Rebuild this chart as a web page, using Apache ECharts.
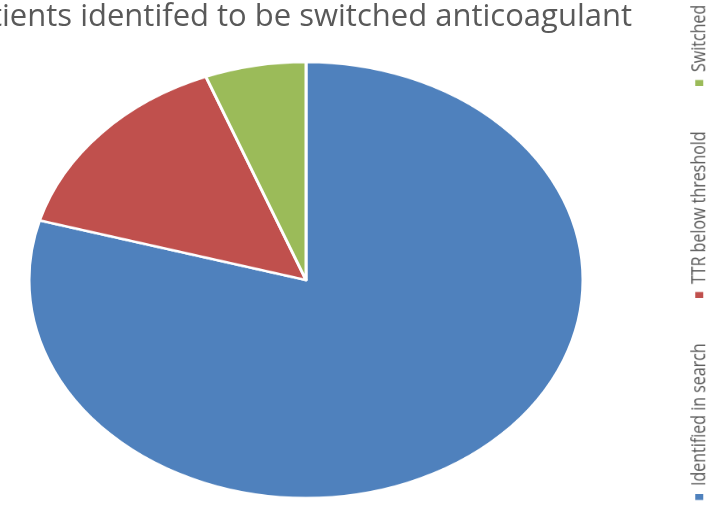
<!DOCTYPE html>
<html>
<head>
<meta charset="utf-8">
<script src="https://cdn.jsdelivr.net/npm/echarts@6/dist/echarts.min.js"></script>
<style>
  html, body { margin: 0; padding: 0; background: #fff; }
  #wrap { position: relative; width: 728px; height: 506px; overflow: hidden; }
  #main { position: absolute; left: 0; top: 0; width: 728px; height: 506px; }
  #pie {
    position: absolute; left: 29px; top: 3px; width: 554px; height: 554px;
    transform-origin: 50% 50%; transform: scaleY(0.787);
  }
  /* 632.5 * 0.8 = 506 after squeeze; centre at (699, 253) */
  #legend {
    position: absolute; left: 382.75px; top: 233px; width: 632.5px; height: 40px;
    transform-origin: 50% 50%; transform: rotate(-90deg) scaleX(0.8);
  }
</style>
</head>
<body>
<div id="wrap">
  <div id="main"></div>
  <div id="pie"></div>
  <div id="legend"></div>
</div>
<script>
var titleText = "Patients identifed to be switched anticoagulant"
var categories = ["Identified in search", "TTR below threshold", "Switched"]
var values = [54, 10, 4]
var colors = ["#4F81BD", "#C0504D", "#9BBB59"]

var pieData = categories.map(function (name, i) {
  return { name: name, value: values[i], itemStyle: { color: colors[i] } }
})

// title
var mainChart = echarts.init(document.getElementById("main"))
mainChart.setOption({
  title: {
    text: titleText,
    right: 91,
    top: -3,
    textStyle: {
      fontFamily: "Open Sans",
      fontSize: 31,
      fontWeight: "normal",
      color: "#595959"
    }
  }
})

// pie (stretched to an ellipse by css)
var pieChart = echarts.init(document.getElementById("pie"))
pieChart.setOption({
  animation: false,
  series: [
    {
      type: "pie",
      center: ["50%", "50%"],
      radius: "100%",
      startAngle: 90,
      clockwise: true,
      label: { show: false },
      labelLine: { show: false },
      itemStyle: { borderColor: "#fff", borderWidth: 3 },
      data: pieData
    }
  ]
})

// legend (rotated and squeezed by css), one block per item
var legendLeft = [2.5, 255, 520]
var legendChart = echarts.init(document.getElementById("legend"))
legendChart.setOption({
  animation: false,
  legend: categories.map(function (name, i) {
    return {
      left: legendLeft[i],
      top: "middle",
      itemWidth: 7.5,
      itemHeight: 8,
      itemGap: 0,
      icon: "rect",
      textStyle: {
        fontFamily: "Open Sans",
        fontSize: 20,
        color: "#595959",
        padding: [0, 0, 0, 5]
      },
      data: [name]
    }
  }),
  series: [
    {
      type: "pie",
      radius: [0, 0],
      silent: true,
      label: { show: false },
      data: pieData
    }
  ]
})
</script>
</body>
</html>
